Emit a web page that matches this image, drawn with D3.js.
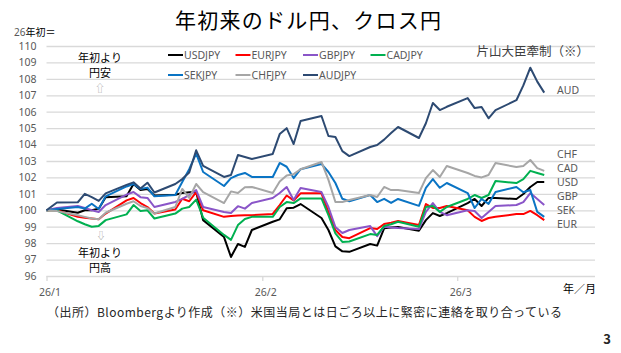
<!DOCTYPE html>
<html>
<head>
<meta charset="utf-8">
<script src="https://cdn.jsdelivr.net/npm/d3@7"></script>
<style>
  body { margin: 0; background: #fff; }
  svg { display: block; }
  text { font-family: "Noto Sans CJK JP", "Noto Sans", sans-serif; }
  .num { font-family: "Noto Sans", "Open Sans", sans-serif; fill: #595959; font-size: 10.5px; }
</style>
</head>
<body>
<div id="chart"></div>
<script>
//Dates of the points (first one is the year start base = 100)
let dates = ["2025-12-31",
  "2026-01-02","2026-01-05","2026-01-06","2026-01-07","2026-01-08","2026-01-09",
  "2026-01-12","2026-01-13","2026-01-14","2026-01-15","2026-01-16",
  "2026-01-19","2026-01-20","2026-01-21","2026-01-22","2026-01-23",
  "2026-01-26","2026-01-27","2026-01-28","2026-01-29","2026-01-30",
  "2026-02-02","2026-02-03","2026-02-04","2026-02-05","2026-02-06",
  "2026-02-09","2026-02-10","2026-02-11","2026-02-12","2026-02-13",
  "2026-02-16","2026-02-17","2026-02-18","2026-02-19","2026-02-20",
  "2026-02-23","2026-02-24","2026-02-25","2026-02-26","2026-02-27",
  "2026-03-02","2026-03-03","2026-03-04","2026-03-05","2026-03-06",
  "2026-03-09","2026-03-10","2026-03-11","2026-03-12","2026-03-13"]

//Index values, 26 start = 100
let usdjpy = [100, 100.05,99.85,100.0,100.0,100.1,100.8, 100.85,101.6,101.23,101.3,100.9,
  100.95,101.05,101.1,101.12,99.4, 98.37,97.16,97.95,97.77,98.8,
  99.3,99.45,100.12,100.16,100.38, 99.53,98.8,97.8,97.5,97.47,
  97.95,97.85,98.9,98.95,98.98, 98.75,99.4,99.83,99.65,99.83,
  100.44,100.69,100.26,100.75,100.75, 100.69,100.99,101.42,101.72,101.72]
let eurjpy = [100, 100.0,99.6,99.55,99.5,99.45,99.8, 100.6,100.75,100.44,100.2,99.8,
  100.05,100.7,100.55,101.11,100.0, 99.6,99.65,99.68,99.7,99.7,
  99.78,100.32,100.9,100.6,101.03, 101.03,99.9,98.8,98.37,98.3,
  98.92,98.86,99.16,99.25,99.35, 99.1,100.38,100.14,100.14,100.26,
  100.0,99.6,99.35,99.53,99.6, 99.77,99.77,99.96,99.7,99.4]
let gbpjpy = [100, 100.14,100.26,100.14,100.0,99.9,100.32, 100.95,101.11,100.8,100.75,100.2,
  100.51,100.69,100.93,101.23,100.2, 99.9,99.83,100.25,100.1,100.44,
  100.75,101.05,101.42,100.63,101.35, 101.11,100.2,98.98,98.62,98.8,
  99.04,98.43,99.0,98.95,98.92, 98.86,99.9,100.44,99.9,99.7,
  100.0,99.96,99.53,99.9,100.26, 100.32,100.5,101.05,100.69,100.32]
let cadjpy = [100, 100.0,99.33,99.15,99.0,99.05,99.4, 99.75,100.32,99.96,100.0,99.5,
  99.8,100.1,100.2,100.65,99.55, 98.5,98.2,99.1,99.47,99.6,
  99.6,100.2,100.5,100.44,100.72, 100.72,99.7,98.6,98.07,98.1,
  98.55,98.5,99.04,99.15,99.3, 99.0,100.2,100.26,99.9,100.2,
  100.69,100.93,100.75,100.93,101.78, 101.66,101.9,102.4,102.27,102.15]
let sekjpy = [100, 100.08,100.2,100.1,100.4,100.08,100.85, 101.45,101.6,101.3,101.38,100.85,
  100.93,101.72,102.5,103.45,102.33, 101.48,101.96,102.15,102.27,102.03,
  102.03,102.88,102.65,101.96,102.5, 102.82,102.33,101.66,100.7,100.55,
  100.93,100.5,100.7,100.45,100.69, 100.27,101.37,101.9,101.37,101.66,
  101.05,100.14,100.69,100.39,101.11, 101.42,101.1,101.23,99.9,99.6]
let chfjpy = [100, 99.95,99.7,99.6,99.5,99.45,99.85, 100.4,100.55,100.26,100.13,99.8,
  100.2,101.3,100.75,101.6,101.1, 100.44,101.15,101.05,101.4,101.42,
  101.05,101.75,102.12,102.2,102.5, 102.94,101.85,100.5,100.5,100.63,
  100.93,100.81,101.42,101.23,101.23, 101.05,101.96,102.45,102.03,102.7,
  102.27,102.09,102.0,102.15,102.88, 102.63,102.7,103.06,102.57,102.4]
let audjpy = [100, 100.47,100.49,101.0,100.8,100.57,101.03, 101.55,101.7,101.33,101.68,101.08,
  101.6,101.9,102.3,103.65,102.7, 102.03,102.15,103.36,103.24,103.12,
  103.43,104.64,105.0,104.03,105.43, 105.74,104.52,104.46,103.6,103.3,
  103.85,103.97,104.3,104.7,105.07, 104.4,105.3,106.53,106.1,106.3,
  106.83,106.22,106.29,105.6,106.1, 106.7,107.6,108.68,107.83,107.16]

let seriesNames = ["USDJPY","EURJPY","GBPJPY","CADJPY","SEKJPY","CHFJPY","AUDJPY"]
let seriesValues = [usdjpy, eurjpy, gbpjpy, cadjpy, sekjpy, chfjpy, audjpy]
let seriesColors = ["#000000","#ff0000","#8a55c8","#00b050","#0a74c4","#a6a6a6","#2d4a72"]
let endLabels = ["USD","EUR","GBP","CAD","SEK","CHF","AUD"]
let endLabelY = [182, 224, 196, 168, 210, 154, 90] //stacked label rows on the right

let yTicks = [96,97,98,99,100,101,102,103,104,105,106,107,108,109,110]
let monthTicks = ["2026-01-01","2026-02-01","2026-03-01"]
let monthLabels = ["26/1","26/2","26/3"]

//Size
let W = 621, H = 353
let plot = { left: 46.5, right: 595, top: 46, bottom: 276 }

let svg = d3.select("#chart")
  .append("svg")
  .attr("width", W)
  .attr("height", H)

//date axis, each point sits in the middle of its day
let parse = d3.timeParse("%Y-%m-%d")
let noon = s => { let d = parse(s); d.setHours(12); return d }

const xScale = d3.scaleTime()
  .domain([parse("2026-01-01"), new Date(2026, 2, 20, 19)])
  .range([plot.left, plot.right])
  .clamp(true) //base point (Dec 31) pinned to the left edge

const yScale = d3.scaleLinear()
  .domain([96, 110])
  .range([plot.bottom, plot.top])

//gridlines + y labels
let yAxis = d3.axisLeft(yScale)
  .tickValues(yTicks)
  .tickSize(-(plot.right - plot.left))
  .tickPadding(10)

let gy = svg.append("g")
  .attr("transform", "translate(" + plot.left + ",0)")
  .call(yAxis)
gy.select(".domain").remove()
gy.selectAll("line").attr("stroke", "#d9d9d9").attr("stroke-width", 1.3)
gy.selectAll("text").attr("class", "num").attr("font-size", null).attr("font-family", null)

//x ticks at month starts
let xAxis = d3.axisBottom(xScale)
  .tickValues(monthTicks.map(parse))
  .tickSize(5)
  .tickFormat((d, i) => monthLabels[i])
  .tickPadding(5)

let gx = svg.append("g")
  .attr("transform", "translate(0," + plot.bottom + ")")
  .call(xAxis)
gx.select(".domain").remove()
gx.selectAll("line").attr("stroke", "#d9d9d9").attr("stroke-width", 1.3)
gx.selectAll("text").attr("class", "num").attr("font-size", null).attr("font-family", null)
  .attr("dx", 3).attr("dy", "0.95em")

//lines
let line = d3.line()
  .x(d => xScale(d.date))
  .y(d => yScale(d.v))

seriesValues.forEach(function(vals, k){
  let pts = vals.map((v, i) => ({ date: noon(dates[i]), v: v }))
  svg.append("path")
    .datum(pts)
    .attr("fill", "none")
    .attr("stroke", seriesColors[k])
    .attr("stroke-width", 2)
    .attr("stroke-linejoin", "round")
    .attr("d", line)
})//forEach series

//legend, 2 rows of 4 + 3
let legend = svg.append("g")
seriesNames.forEach(function(name, k){
  let lx = 168 + (k % 4) * 67.5
  let ly = k < 4 ? 55 : 75
  legend.append("line")
    .attr("x1", lx).attr("x2", lx + 15)
    .attr("y1", ly).attr("y2", ly)
    .attr("stroke", seriesColors[k])
    .attr("stroke-width", 2)
  legend.append("text")
    .attr("class", "num")
    .attr("x", lx + 16).attr("y", ly)
    .attr("dy", "0.35em")
    .attr("font-size", "10px")
    .text(name)
})

//end labels
endLabels.forEach(function(lab, k){
  svg.append("text")
    .attr("class", "num")
    .attr("x", 557).attr("y", endLabelY[k])
    .attr("dy", "0.35em")
    .text(lab)
})

//title
svg.append("text")
  .attr("x", 308).attr("y", 28)
  .attr("text-anchor", "middle")
  .attr("font-size", "21px")
  .attr("fill", "#000")
  .attr("textLength", 266)
  .text("年初来のドル円、クロス円")

//26年初＝
let base = svg.append("text")
  .attr("x", 14).attr("y", 36)
  .attr("font-size", "10px")
base.append("tspan").attr("fill", "#595959").attr("font-family", "Noto Sans").text("26")
base.append("tspan").attr("fill", "#000").text("年初＝")

//annotations inside the plot
function note(x, y, txt, color, size){
  svg.append("text")
    .attr("x", x).attr("y", y)
    .attr("text-anchor", "middle")
    .attr("dy", "0.35em")
    .attr("font-size", size || "11px")
    .attr("fill", color || "#000")
    .text(txt)
}
note(100, 58, "年初より")
note(100, 73, "円安")
note(100, 88, "⇧", "#a6a6a6", "10px")
note(101, 236, "⇩", "#a6a6a6", "9px")
note(100, 253, "年初より")
note(100, 268, "円高")

svg.append("text")
  .attr("x", 589).attr("y", 52)
  .attr("text-anchor", "end")
  .attr("dy", "0.35em")
  .attr("font-size", "12.5px")
  .attr("fill", "#404040")
  .text("片山大臣牽制（※）")

svg.append("text")
  .attr("x", 596).attr("y", 289)
  .attr("text-anchor", "end")
  .attr("dy", "0.35em")
  .attr("font-size", "11px")
  .attr("fill", "#000")
  .text("年／月")

//source note + page number
svg.append("text")
  .attr("x", 47).attr("y", 313)
  .attr("dy", "0.35em")
  .attr("font-size", "12px")
  .attr("fill", "#262626")
  .attr("textLength", 515)
  .text("（出所）Bloombergより作成（※）米国当局とは日ごろ以上に緊密に連絡を取り合っている")

svg.append("text")
  .attr("x", 611).attr("y", 339)
  .attr("text-anchor", "end")
  .attr("dy", "0.35em")
  .attr("font-size", "13px")
  .attr("font-weight", "bold")
  .attr("fill", "#262626")
  .text("3")
</script>
</body>
</html>
